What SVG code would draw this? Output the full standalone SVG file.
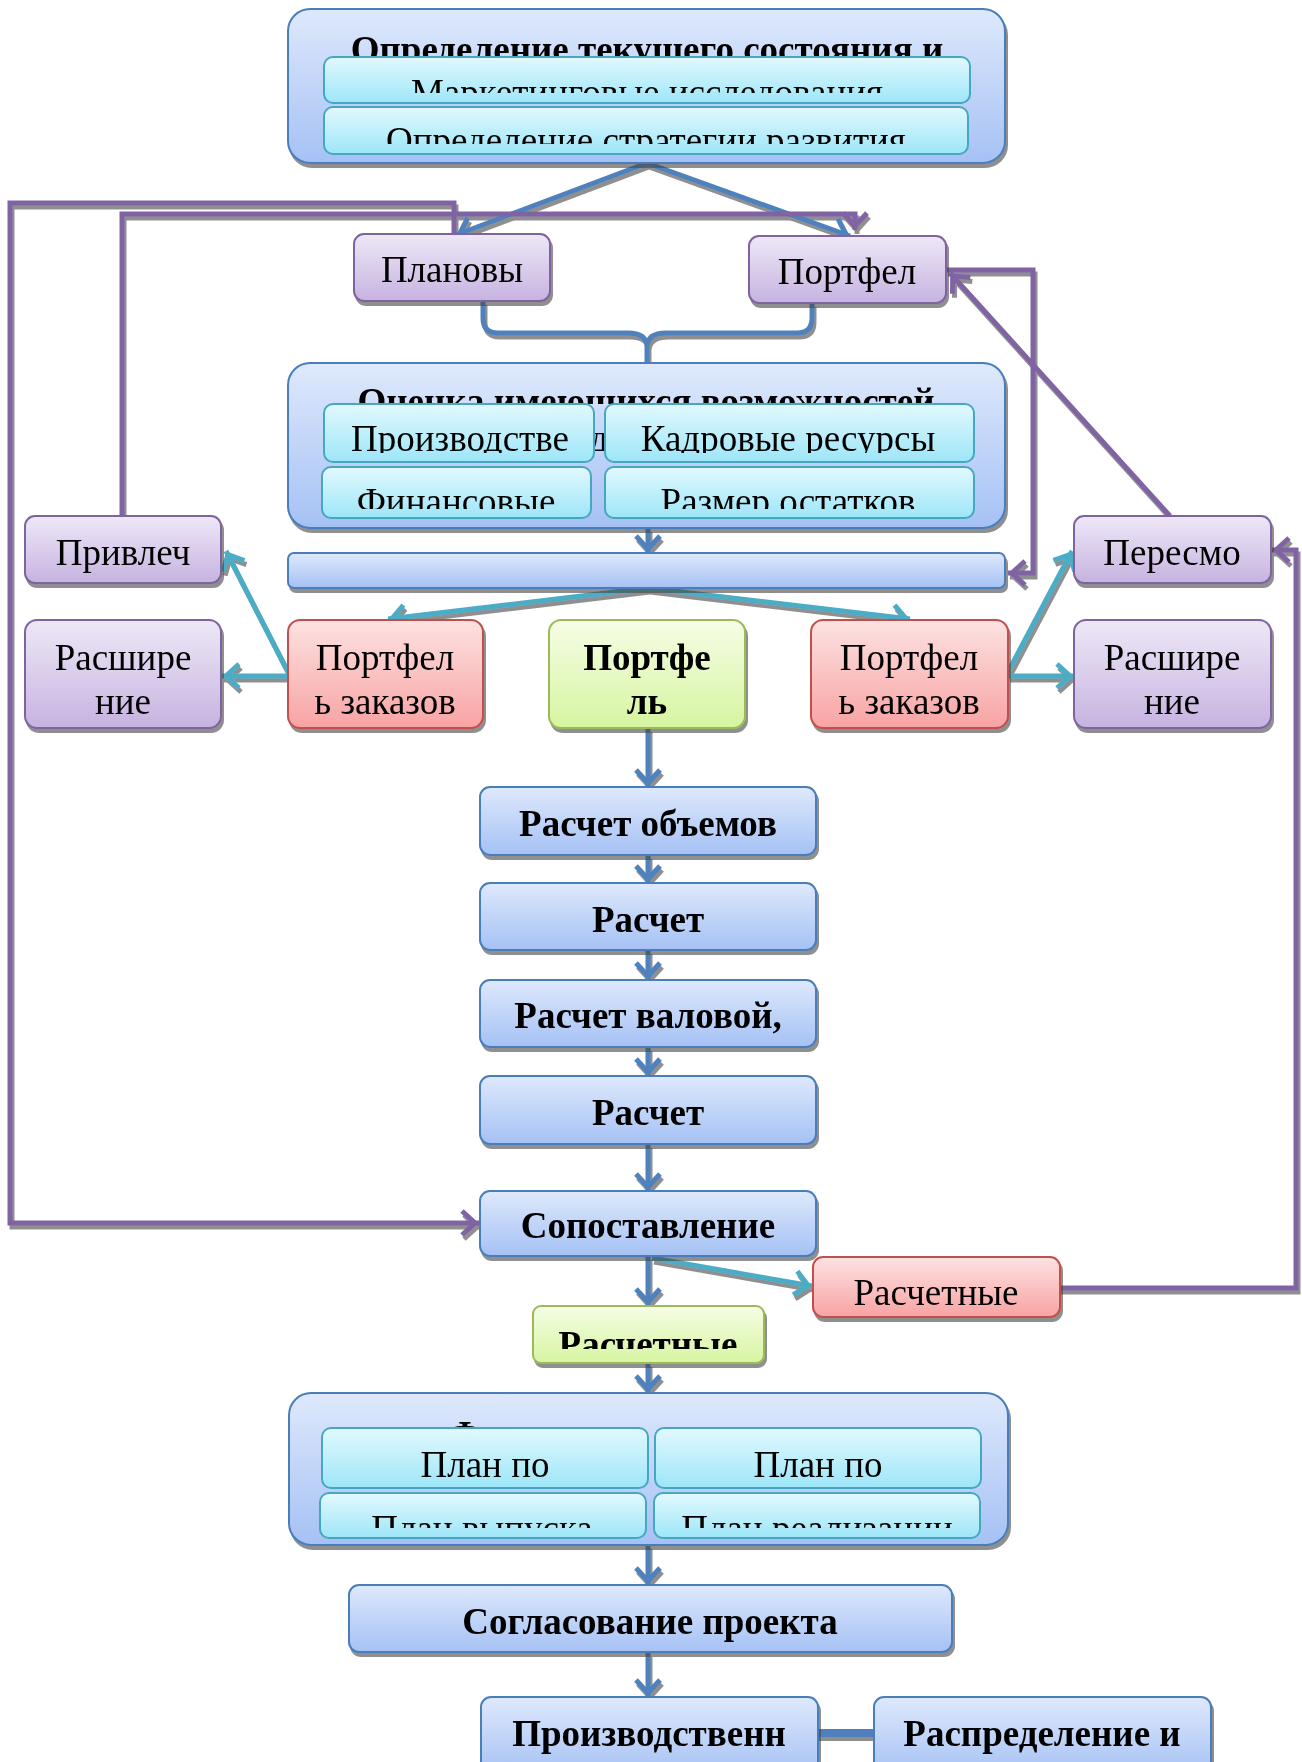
<svg xmlns="http://www.w3.org/2000/svg" width="1302" height="1762" viewBox="0 0 1302 1762">
<style>
.t{font-family:"Liberation Serif","Times New Roman",serif;font-size:37px;text-anchor:middle;fill:#000}
.b{font-weight:bold}
.nb{fill:url(#gBlue);stroke:#4a7ebb;stroke-width:2}
.nc{fill:url(#gCyan);stroke:#46a7c0;stroke-width:2}
.np{fill:url(#gPur);stroke:#7e649e;stroke-width:2}
.nr{fill:url(#gRed);stroke:#c0504d;stroke-width:2}
.ng{fill:url(#gGrn);stroke:#9bbb59;stroke-width:2}
.cb{fill:none;stroke:#4f81bd;stroke-width:5}
.ct{fill:none;stroke:#4bacc6;stroke-width:5}
.cp{fill:none;stroke:#8064a2;stroke-width:5}
.sh{filter:url(#shadow)}
</style>
<defs>
<linearGradient id="gBlue" x1="0" y1="0" x2="0" y2="1"><stop offset="0" stop-color="#dee9fc"/><stop offset="1" stop-color="#a5c1f4"/></linearGradient>
<linearGradient id="gCyan" x1="0" y1="0" x2="0" y2="1"><stop offset="0" stop-color="#e2f9fe"/><stop offset="1" stop-color="#9de6f8"/></linearGradient>
<linearGradient id="gPur" x1="0" y1="0" x2="0" y2="1"><stop offset="0" stop-color="#eee8f7"/><stop offset="1" stop-color="#c6b3e0"/></linearGradient>
<linearGradient id="gRed" x1="0" y1="0" x2="0" y2="1"><stop offset="0" stop-color="#fde2e2"/><stop offset="1" stop-color="#f8a3a3"/></linearGradient>
<linearGradient id="gGrn" x1="0" y1="0" x2="0" y2="1"><stop offset="0" stop-color="#f6fde6"/><stop offset="1" stop-color="#d6f5a0"/></linearGradient>
<filter id="shadow" x="-5%" y="-5%" width="112%" height="125%"><feDropShadow dx="2" dy="4" stdDeviation="0.7" flood-color="#444" flood-opacity="0.6"/></filter>
<marker id="mB" markerUnits="userSpaceOnUse" markerWidth="40" markerHeight="40" refX="20" refY="20" orient="auto" overflow="visible"><path d="M3,8 L16,20 L3,32" fill="none" stroke="#4f81bd" stroke-width="5"/></marker>
<marker id="mT" markerUnits="userSpaceOnUse" markerWidth="40" markerHeight="40" refX="20" refY="20" orient="auto" overflow="visible"><path d="M3,8 L16,20 L3,32" fill="none" stroke="#4bacc6" stroke-width="5"/></marker>
<marker id="mP" markerUnits="userSpaceOnUse" markerWidth="40" markerHeight="40" refX="20" refY="20" orient="auto" overflow="visible"><path d="M3,8 L16,20 L3,32" fill="none" stroke="#8064a2" stroke-width="5"/></marker>
<clipPath id="c0"><rect x="288" y="9" width="717" height="48"/></clipPath>
<clipPath id="c1"><rect x="324" y="57" width="646" height="36"/></clipPath>
<clipPath id="c2"><rect x="324" y="107" width="644" height="37"/></clipPath>
<clipPath id="cT"><rect x="288" y="363" width="717" height="41"/></clipPath>
<clipPath id="cD"><rect x="594" y="404" width="11" height="60"/></clipPath>
<clipPath id="c3"><rect x="324" y="404" width="650" height="49"/></clipPath>
<clipPath id="c4"><rect x="322" y="467" width="652" height="42"/></clipPath>
<clipPath id="c5"><rect x="532" y="1306" width="231" height="43"/></clipPath>
<clipPath id="cF"><rect x="289" y="1393" width="719" height="35"/></clipPath>
<clipPath id="c6"><rect x="320" y="1493" width="660" height="35"/></clipPath>
</defs>

<g id="connectors" class="sh">
<path class="cb" d="M647,163 L456,235" marker-end="url(#mB)"/>
<path class="cb" d="M647,163 L850,236" marker-end="url(#mB)"/>
<path class="cb" d="M483,301 V318 Q483,333 498,333 H628 Q646,333 647,346 V372 M812,303 V318 Q812,333 797,333 H666 Q648,333 647,346"/>
<path class="cp" d="M454,234 V203 H10 V1223 H479" marker-end="url(#mP)"/>
<path class="cp" d="M122,516 V214 H855 V230" marker-end="url(#mP)"/>
<path class="cp" d="M946,270 H1033 V573 H1008" marker-end="url(#mP)"/>
<path class="cp" d="M1170,516 L950,273" marker-end="url(#mP)"/>
<path class="cp" d="M1058,1288 H1296 V550 H1272" marker-end="url(#mP)"/>
<path class="cb" d="M648,528 V553" marker-end="url(#mB)"/>
<path class="ct" d="M648,588 L388,619" marker-end="url(#mT)"/>
<path class="ct" d="M648,588 L910,619" marker-end="url(#mT)"/>
<path class="ct" d="M288,676 H222" marker-end="url(#mT)"/>
<path class="ct" d="M288,672 L226,551" marker-end="url(#mT)"/>
<path class="ct" d="M1008,676 H1074" marker-end="url(#mT)"/>
<path class="ct" d="M1008,672 L1072,551" marker-end="url(#mT)"/>
<path class="cb" d="M648,728 V787" marker-end="url(#mB)"/>
<path class="cb" d="M648,855 V883" marker-end="url(#mB)"/>
<path class="cb" d="M648,950 V980" marker-end="url(#mB)"/>
<path class="cb" d="M648,1047 V1076" marker-end="url(#mB)"/>
<path class="cb" d="M648,1144 V1191" marker-end="url(#mB)"/>
<path class="cb" d="M648,1256 V1306" marker-end="url(#mB)"/>
<path class="ct" d="M652,1258 L812,1286" marker-end="url(#mT)"/>
<path class="cb" d="M648,1363 V1393" marker-end="url(#mB)"/>
<path class="cb" d="M648,1545 V1585" marker-end="url(#mB)"/>
<path class="cb" d="M648,1653 V1697" marker-end="url(#mB)"/>
<path d="M816,1733 H874" fill="none" stroke="#4f7fbd" stroke-width="8"/>
</g>

<g id="n-top" class="sh">
<rect class="nb" x="288" y="9" width="717" height="154" rx="22"/>
<text class="t b" x="647" y="62" clip-path="url(#c0)">Определение текущего состояния и</text>
<g id="n-market"><rect class="nc" x="324" y="57" width="646" height="46" rx="9"/>
<text class="t" x="647" y="105" clip-path="url(#c1)">Маркетинговые исследования</text></g>
<g id="n-strat"><rect class="nc" x="324" y="107" width="644" height="47" rx="9"/>
<text class="t" x="646" y="153" clip-path="url(#c2)">Определение стратегии развития</text></g>
</g>

<g id="n-plan" class="sh"><rect class="np" x="354" y="234" width="196" height="67" rx="10"/><text class="t" x="452" y="282">Плановы</text></g>
<g id="n-portf" class="sh"><rect class="np" x="749" y="236" width="197" height="67" rx="10"/><text class="t" x="847" y="284">Портфел</text></g>

<g id="n-ocenka" class="sh">
<rect class="nb" x="288" y="363" width="717" height="165" rx="22"/>
<text class="t b" x="646" y="414" clip-path="url(#cT)">Оценка имеющихся возможностей</text>
<text class="t" x="599" y="451" clip-path="url(#cD)">д</text>
<g id="n-proizv"><rect class="nc" x="324" y="404" width="270" height="58" rx="9"/><text class="t" x="460" y="451" clip-path="url(#c3)">Производстве</text></g>
<g id="n-kadr"><rect class="nc" x="605" y="404" width="369" height="58" rx="9"/><text class="t" x="788" y="451" clip-path="url(#c3)">Кадровые ресурсы</text></g>
<g id="n-fin"><rect class="nc" x="322" y="467" width="269" height="51" rx="9"/><text class="t" x="456" y="514" clip-path="url(#c4)">Финансовые</text></g>
<g id="n-ost"><rect class="nc" x="605" y="467" width="369" height="51" rx="9"/><text class="t" x="788" y="514" clip-path="url(#c4)">Размер остатков</text></g>
</g>

<g id="n-bar" class="sh"><rect class="nb" x="288" y="553" width="717" height="35" rx="6"/></g>

<g id="n-privl" class="sh"><rect class="np" x="25" y="516" width="196" height="67" rx="10"/><text class="t" x="123" y="565">Привлеч</text></g>
<g id="n-peresm" class="sh"><rect class="np" x="1074" y="516" width="197" height="67" rx="10"/><text class="t" x="1172" y="565">Пересмо</text></g>

<g id="n-rasL" class="sh"><rect class="np" x="25" y="620" width="196" height="108" rx="12"/><text class="t" x="123" y="670">Расшире</text><text class="t" x="123" y="714">ние</text></g>
<g id="n-redL" class="sh"><rect class="nr" x="288" y="620" width="195" height="108" rx="12"/><text class="t" x="385" y="670">Портфел</text><text class="t" x="385" y="714">ь заказов</text></g>
<g id="n-green" class="sh"><rect class="ng" x="549" y="620" width="196" height="108" rx="12"/><text class="t b" x="647" y="670">Портфе</text><text class="t b" x="647" y="714">ль</text></g>
<g id="n-redR" class="sh"><rect class="nr" x="811" y="620" width="197" height="108" rx="12"/><text class="t" x="909" y="670">Портфел</text><text class="t" x="909" y="714">ь заказов</text></g>
<g id="n-rasR" class="sh"><rect class="np" x="1074" y="620" width="197" height="108" rx="12"/><text class="t" x="1172" y="670">Расшире</text><text class="t" x="1172" y="714">ние</text></g>

<g id="n-r1" class="sh"><rect class="nb" x="480" y="787" width="336" height="68" rx="10"/><text class="t b" x="648" y="836">Расчет объемов</text></g>
<g id="n-r2" class="sh"><rect class="nb" x="480" y="883" width="336" height="67" rx="10"/><text class="t b" x="648" y="932">Расчет</text></g>
<g id="n-r3" class="sh"><rect class="nb" x="480" y="980" width="336" height="67" rx="10"/><text class="t b" x="648" y="1028">Расчет валовой,</text></g>
<g id="n-r4" class="sh"><rect class="nb" x="480" y="1076" width="336" height="68" rx="10"/><text class="t b" x="648" y="1125">Расчет</text></g>
<g id="n-sopost" class="sh"><rect class="nb" x="480" y="1191" width="336" height="65" rx="10"/><text class="t b" x="648" y="1238">Сопоставление</text></g>

<g id="n-rasch-red" class="sh"><rect class="nr" x="813" y="1257" width="247" height="60" rx="10"/><text class="t" x="936" y="1305">Расчетные</text></g>
<g id="n-rasch-green" class="sh"><rect class="ng" x="533" y="1306" width="231" height="57" rx="8"/><text class="t b" x="648" y="1357" clip-path="url(#c5)">Расчетные</text></g>

<g id="n-form" class="sh">
<rect class="nb" x="289" y="1393" width="719" height="152" rx="22"/>
<text class="t b" x="465" y="1447" clip-path="url(#cF)">Ф</text>
<g id="n-plan1"><rect class="nc" x="322" y="1428" width="326" height="60" rx="9"/><text class="t" x="485" y="1477">План по</text></g>
<g id="n-plan2"><rect class="nc" x="655" y="1428" width="326" height="60" rx="9"/><text class="t" x="818" y="1477">План по</text></g>
<g id="n-plan3"><rect class="nc" x="320" y="1493" width="326" height="45" rx="9"/><text class="t" x="482" y="1541" clip-path="url(#c6)">План выпуска</text></g>
<g id="n-plan4"><rect class="nc" x="654" y="1493" width="326" height="45" rx="9"/><text class="t" x="817" y="1541" clip-path="url(#c6)">План реализации</text></g>
</g>

<g id="n-soglas" class="sh"><rect class="nb" x="349" y="1585" width="603" height="67" rx="10"/><text class="t b" x="650" y="1634">Согласование проекта</text></g>
<g id="n-proizvodstv" class="sh"><rect class="nb" x="481" y="1697" width="337" height="80" rx="10"/><text class="t b" x="649" y="1746">Производственн</text></g>
<g id="n-raspr" class="sh"><rect class="nb" x="874" y="1697" width="337" height="80" rx="10"/><text class="t b" x="1042" y="1746">Распределение и</text></g>
</svg>
